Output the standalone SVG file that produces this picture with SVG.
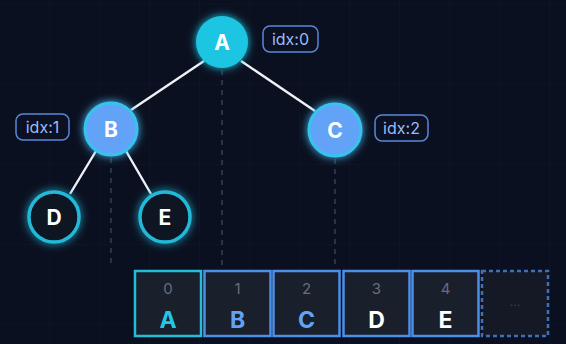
<svg xmlns="http://www.w3.org/2000/svg" width="566" height="344" viewBox="0 0 566 344">
  <defs>
    <pattern id="grid" width="50" height="80" patternUnits="userSpaceOnUse" x="0" y="5">
      <path d="M50 0V80M0 80H50" fill="none" stroke="#111829" stroke-width="1"/>
    </pattern>
    <filter id="glow" x="-50%" y="-50%" width="200%" height="200%">
      <feGaussianBlur in="SourceGraphic" stdDeviation="4" result="b"/>
      <feMerge><feMergeNode in="b"/><feMergeNode in="SourceGraphic"/></feMerge>
    </filter>
  </defs>
  <style>
    .edge { stroke: #eef2f7; stroke-width: 2.4; }
    .guide { stroke: #363e52; stroke-width: 1.5; stroke-dasharray: 5 5; }
    .nl { font-family: "Inter", "Liberation Sans", sans-serif; font-weight: 700; font-size: 21px; fill: #ffffff; text-anchor: middle; dominant-baseline: central; }
    .tag rect { fill: #0b1122; stroke: #5a86d6; stroke-width: 1.5; }
    .tag text { font-family: "Inter", "Liberation Sans", sans-serif; font-size: 16px; fill: #9bbcf7; text-anchor: middle; dominant-baseline: central; }
    .cell rect { fill: #1a1f2c; stroke: #4d8ee6; stroke-width: 2.5; }
    .cell .i { font-family: "Inter", "Liberation Sans", sans-serif; font-size: 15px; fill: #676e7d; text-anchor: middle; }
    .cell .v { font-family: "Inter", "Liberation Sans", sans-serif; font-size: 23px; font-weight: 700; text-anchor: middle; }
  </style>
  <rect width="566" height="344" fill="#0b1020"/>
  <rect width="566" height="344" fill="url(#grid)"/>

  <g id="connectors">
    <line class="guide" x1="222" y1="70" x2="222" y2="266"/>
    <line class="guide" x1="111" y1="158" x2="111" y2="266"/>
    <line class="guide" x1="335" y1="159" x2="335" y2="266"/>
    <line class="edge" x1="204" y1="61" x2="131" y2="110"/>
    <line class="edge" x1="241" y1="61" x2="315" y2="111"/>
    <line class="edge" x1="96" y1="151" x2="70" y2="194"/>
    <line class="edge" x1="126" y1="151" x2="151" y2="194"/>
  </g>

  <g id="node-A">
    <circle cx="222" cy="42" r="26" fill="#1fc6e2" filter="url(#glow)"/>
    <text class="nl" x="222" y="42">A</text>
  </g>
  <g id="tag-0" class="tag">
    <rect x="263" y="26" width="55" height="26" rx="7"/>
    <text x="290.5" y="39">idx:0</text>
  </g>

  <g id="node-B">
    <circle cx="111" cy="129" r="26" fill="#62a3f7" stroke="#34c4ee" stroke-width="3" filter="url(#glow)"/>
    <text class="nl" x="111" y="129">B</text>
  </g>
  <g id="tag-1" class="tag">
    <rect x="16" y="114" width="53" height="26" rx="7"/>
    <text x="42.5" y="127">idx:1</text>
  </g>

  <g id="node-C">
    <circle cx="335" cy="130" r="26" fill="#62a3f7" stroke="#34c4ee" stroke-width="3" filter="url(#glow)"/>
    <text class="nl" x="335" y="130">C</text>
  </g>
  <g id="tag-2" class="tag">
    <rect x="375" y="115" width="53" height="26" rx="7"/>
    <text x="401.5" y="128">idx:2</text>
  </g>

  <g id="node-D">
    <circle cx="54" cy="217" r="25" fill="#0c1222" stroke="#23b9d8" stroke-width="3.5" filter="url(#glow)"/>
    <text class="nl" x="54" y="217">D</text>
  </g>
  <g id="node-E">
    <circle cx="165" cy="217" r="25" fill="#0c1222" stroke="#23b9d8" stroke-width="3.5" filter="url(#glow)"/>
    <text class="nl" x="165" y="217">E</text>
  </g>

  <g id="cell-0" class="cell">
    <rect x="135" y="271" width="66" height="65" style="stroke:#23bdd9"/>
    <text class="i" x="168" y="294">0</text>
    <text class="v" x="168" y="328" fill="#22c7e4">A</text>
  </g>
  <g id="cell-1" class="cell">
    <rect x="204.5" y="271" width="66" height="65"/>
    <text class="i" x="237.5" y="294">1</text>
    <text class="v" x="237.5" y="328" fill="#62a3f7">B</text>
  </g>
  <g id="cell-2" class="cell">
    <rect x="273.5" y="271" width="66" height="65"/>
    <text class="i" x="306.5" y="294">2</text>
    <text class="v" x="306.5" y="328" fill="#62a3f7">C</text>
  </g>
  <g id="cell-3" class="cell">
    <rect x="343.5" y="271" width="66" height="65"/>
    <text class="i" x="376.5" y="294">3</text>
    <text class="v" x="376.5" y="328" fill="#ffffff">D</text>
  </g>
  <g id="cell-4" class="cell">
    <rect x="412.5" y="271" width="66" height="65"/>
    <text class="i" x="445.5" y="294">4</text>
    <text class="v" x="445.5" y="328" fill="#ffffff">E</text>
  </g>
  <g id="cell-5" class="cell">
    <rect x="482" y="271" width="66" height="65" style="stroke:#3f6fb8;stroke-dasharray:4 3;fill:#141925"/>
    <text class="i" x="515" y="306" style="fill:#3b4252;font-size:12px">...</text>
  </g>
</svg>
